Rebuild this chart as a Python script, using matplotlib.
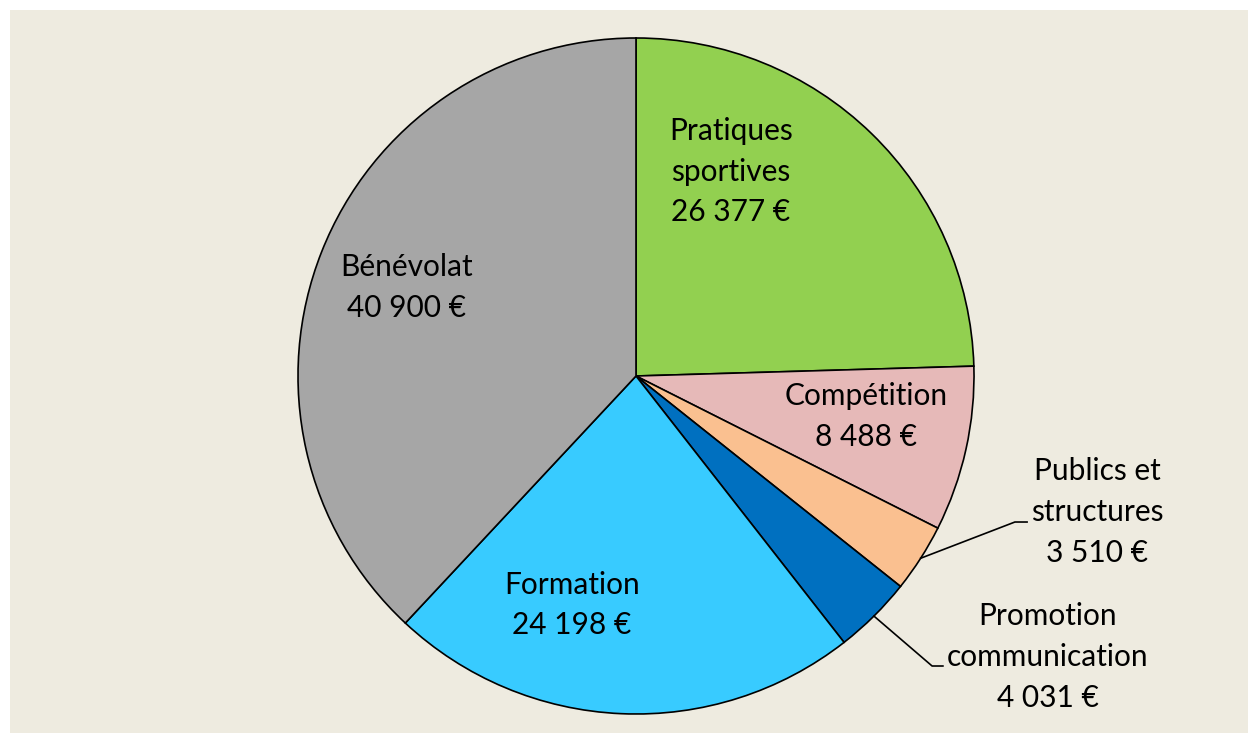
import numpy as np
import matplotlib.pyplot as plt

# budget par poste (euros)
labels = ['Pratiques\nsportives', 'Compétition', 'Publics et\nstructures',
          'Promotion\ncommunication', 'Formation', 'Bénévolat']
values = [26377, 8488, 3510, 4031, 24198, 40900]
colors = ['#92D050', '#E6B9B8', '#FAC090', '#0070C0', '#38CBFF', '#A6A6A6']

# label centres (data units, radius = 1) and leader elbows for the outside ones
label_pos = [(0.281, 0.604), (0.680, -0.120), (1.364, -0.402),
             (1.219, -0.831), (-0.189, -0.678), (-0.680, 0.262)]
elbows = {2: [(1.121, -0.432), (1.157, -0.432)],
          3: [(0.876, -0.858), (0.908, -0.858)]}

plt.rcParams['font.family'] = ['Lato', 'DejaVu Sans']

W, H = 1248, 733
fig = plt.figure(figsize=(W / 100, H / 100), dpi=100)
fig.patch.set_facecolor('white')
fig.patches.append(plt.Rectangle((10 / W, 0), 1, (H - 10) / H, transform=fig.transFigure,
                                 facecolor='#EEEBE0', edgecolor='none', zorder=-10))

cx, cy, r = 636, 376, 338
ax = fig.add_axes([(cx - r) / W, (H - cy - r) / H, 2 * r / W, 2 * r / H])

wedges, _ = ax.pie(values, colors=colors, startangle=90, counterclock=False, radius=1,
                   wedgeprops=dict(edgecolor='black', linewidth=1.2))
ax.set_xlim(-1, 1)
ax.set_ylim(-1, 1)
ax.axis('off')

fmt = lambda v: f'{v:,}'.replace(',', ' ') + ' €'
for i, (lab, v) in enumerate(zip(labels, values)):
    x, y = label_pos[i]
    ax.text(x, y, lab + '\n' + fmt(v), ha='center', va='center', fontsize=21.5,
            linespacing=1.55, clip_on=False)
    if i in elbows:
        w = wedges[i]
        mid = np.deg2rad((w.theta1 + w.theta2) / 2)
        pts = [(np.cos(mid), np.sin(mid))] + elbows[i]
        xs, ys = zip(*pts)
        ax.plot(xs, ys, color='black', linewidth=1.2, clip_on=False)

fig.savefig('out.png', dpi=100)
